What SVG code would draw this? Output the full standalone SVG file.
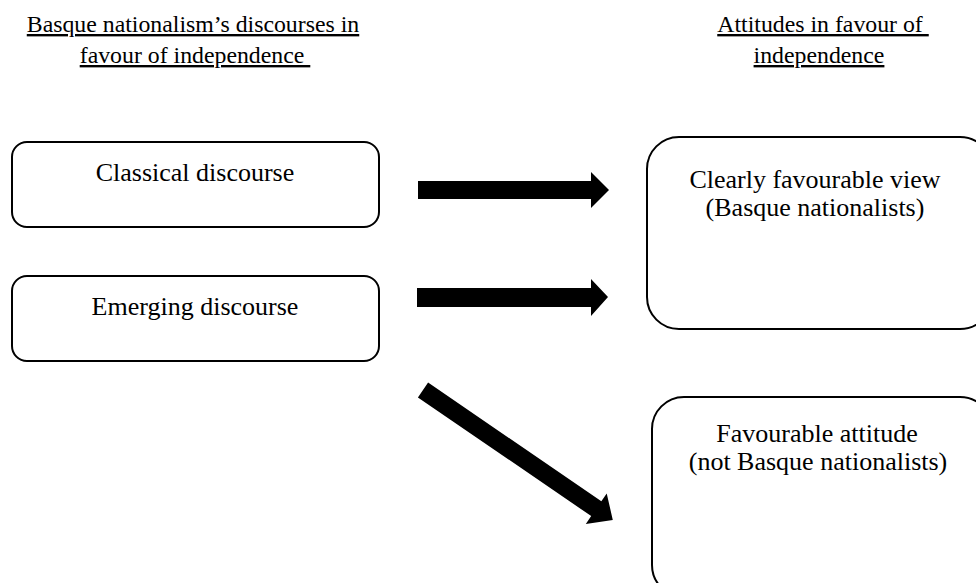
<svg xmlns="http://www.w3.org/2000/svg" width="976" height="583" viewBox="0 0 976 583">
<style>
text{fill:#000;text-anchor:middle;white-space:pre}
.h{font-size:23.8px;text-decoration:underline}
.t{font-size:26px}
.box{fill:#fff;stroke:#000;stroke-width:2}
.arr{fill:#000}
</style>
<rect width="976" height="583" fill="#fff"/>
<g font-family="'Liberation Serif', 'DejaVu Serif', serif">
<g id="header-left">
<text class="h" x="193" y="32">Basque nationalism’s discourses in</text>
<text class="h" x="195" y="63">favour of independence </text>
</g>
<g id="header-right">
<text class="h" x="823" y="32">Attitudes in favour of </text>
<text class="h" x="819" y="63">independence</text>
</g>
<g id="classical">
<rect class="box" x="12" y="142" width="367" height="85" rx="15"/>
<text class="t" x="195" y="181">Classical discourse</text>
</g>
<g id="emerging">
<rect class="box" x="12" y="276" width="367" height="85" rx="15"/>
<text class="t" x="195" y="315">Emerging discourse</text>
</g>
<g id="clearly">
<rect class="box" x="647" y="137" width="345" height="192" rx="32"/>
<text class="t" x="815" y="188">Clearly favourable view</text>
<text class="t" x="815" y="216">(Basque nationalists)</text>
</g>
<g id="favourable">
<rect class="box" x="652" y="397" width="340" height="200" rx="32"/>
<text class="t" x="817" y="442">Favourable attitude</text>
<text class="t" x="818" y="470">(not Basque nationalists)</text>
</g>
</g>
<g id="connectors">
<polygon class="arr" points="418,181 591,181 591,172 609,190 591,208 591,199 418,199"/>
<polygon class="arr" points="417,288 591,288 591,279 608,297 591,316 591,307 417,307"/>
<g transform="translate(423,390) rotate(34.4)">
<polygon class="arr" points="0,-9 210,-9 210,-18.5 230,0 210,18.5 210,9 0,9"/>
</g>
</g>
</svg>
